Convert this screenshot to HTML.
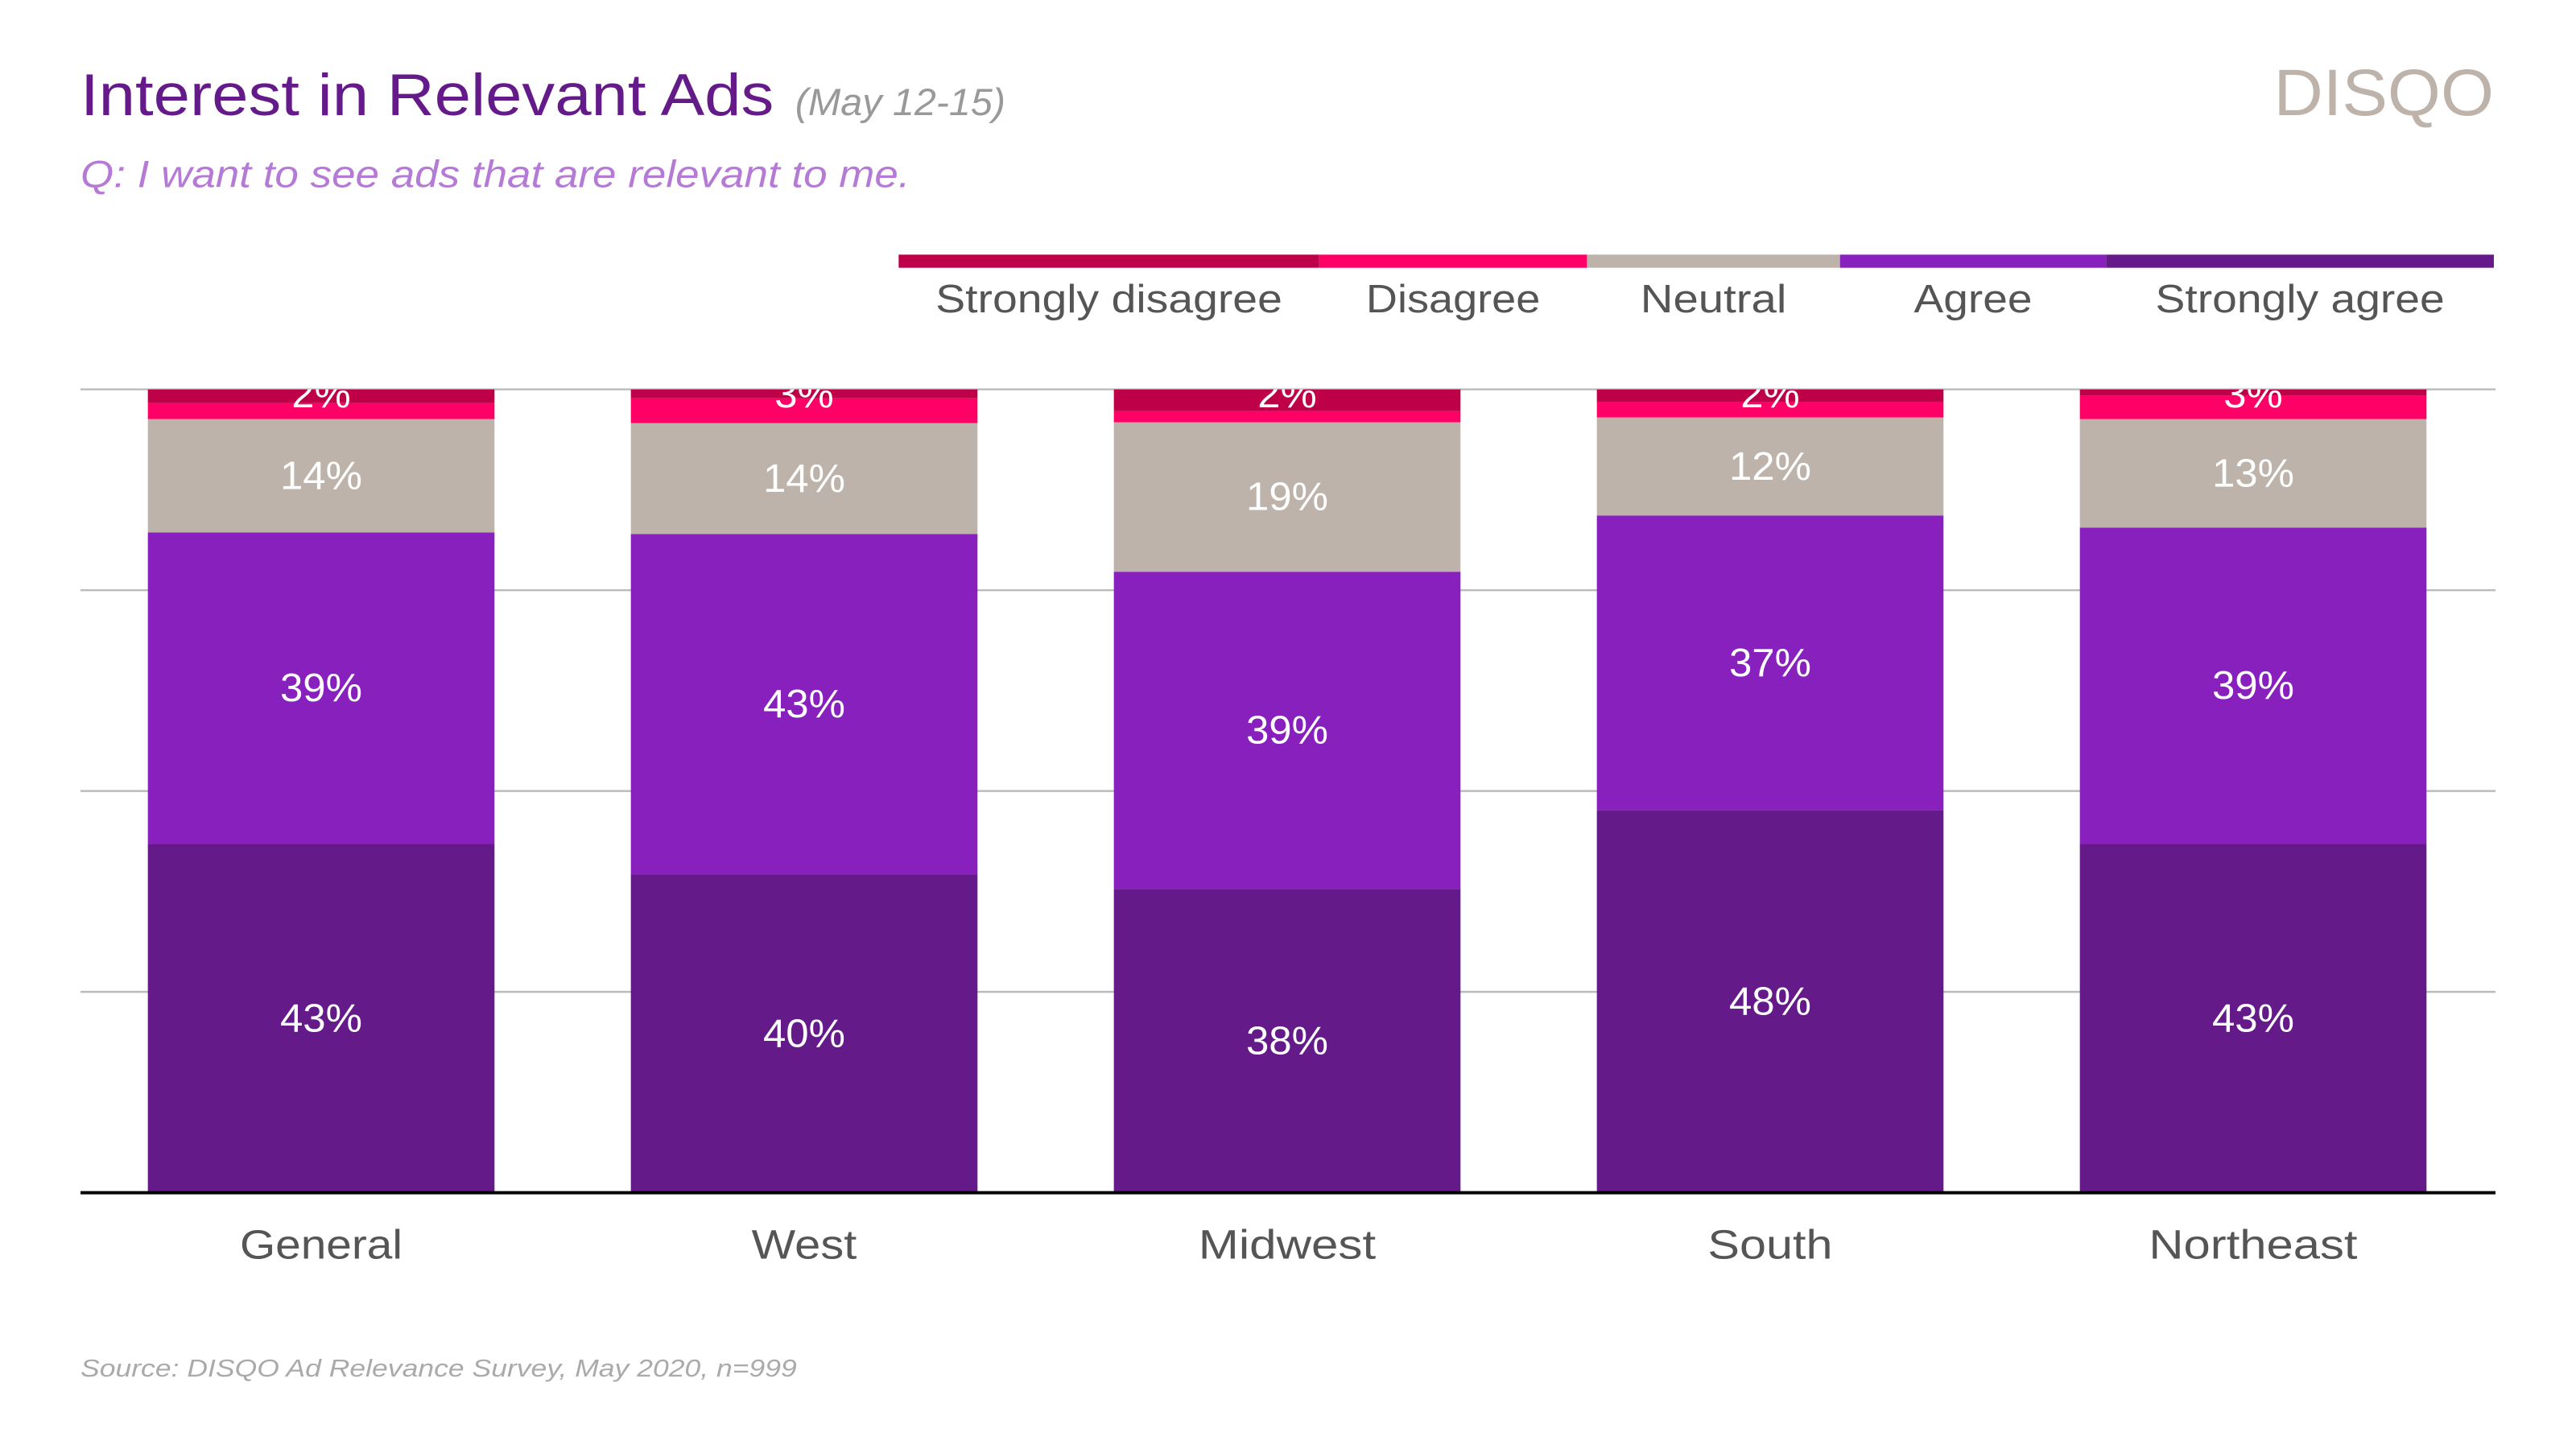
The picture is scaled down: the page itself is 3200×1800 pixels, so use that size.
<!DOCTYPE html>
<html><head><meta charset="utf-8">
<style>
html,body{margin:0;padding:0;background:#fff;}
svg{display:block;font-family:"Liberation Sans",sans-serif;}
</style></head>
<body>
<svg id="chart" width="3200" height="1800" viewBox="0 0 1568 882" xmlns="http://www.w3.org/2000/svg">
<defs><clipPath id="plotclip"><rect x="0" y="237" width="1568" height="600"/></clipPath></defs>
<text x="49" y="70" font-size="36" fill="#651a8a" textLength="422" lengthAdjust="spacingAndGlyphs">Interest in Relevant Ads</text>
<text x="484" y="70" font-size="23" font-style="italic" fill="#999" textLength="128" lengthAdjust="spacingAndGlyphs">(May 12-15)</text>
<text x="49" y="114" font-size="23" font-style="italic" fill="#b57ad6" textLength="505" lengthAdjust="spacingAndGlyphs">Q: I want to see ads that are relevant to me.</text>
<text x="1384" y="70" font-size="40" fill="#bdb3aa" textLength="134" lengthAdjust="spacingAndGlyphs">DISQO</text>
<g id="legend"></g>
<g id="grid"></g>
<g id="bars" clip-path="url(#plotclip)"></g>
<line x1="49" x2="1519" y1="726" y2="726" stroke="#000" stroke-width="2"/>
<g id="xlabels"></g>
<text x="49" y="838" font-size="15" font-style="italic" fill="#aaa" textLength="436" lengthAdjust="spacingAndGlyphs">Source: DISQO Ad Relevance Survey, May 2020, n=999</text>
</svg>
<script>
const categories = ["General","West","Midwest","South","Northeast"];
const seriesNames = ["Strongly agree","Agree","Neutral","Disagree","Strongly disagree"];
const stronglyAgree = [43.4,39.6,37.8,47.6,43.4];
const agree = [38.8,42.4,39.5,36.7,39.4];
const neutral = [14.1,13.8,18.6,12.2,13.5];
const disagree = [2,3.1,1.4,1.9,2.9];
const stronglyDisagree = [1.7,1.1,2.7,1.6,0.8];
const valueLabels = [
  ["43%","40%","38%","48%","43%"],
  ["39%","43%","39%","37%","39%"],
  ["14%","14%","19%","12%","13%"]
];
const topLabels = ["2%","3%","2%","2%","3%"];
const gridTicks = [0,25,50,75,100];

const catWidths = [99,64,108,76,127];
const legendWidths = [176,72,89,106,211];

const colors = ["#651a8a","#8820bd","#bdb3aa","#ff0066","#be0049"];
const NS = "http://www.w3.org/2000/svg";
const y0 = 726, yTop = 237;
const yScale = v => y0 - v/100*(y0-yTop);
const barW = 211, step = 294, firstX = 90;
const xScale = i => firstX + i*step;
function mk(tag, attrs, parent){const e=document.createElementNS(NS,tag);for(const k in attrs)e.setAttribute(k,attrs[k]);parent.appendChild(e);return e;}

const grid=document.getElementById('grid');
gridTicks.slice(1).forEach(t=>{
  const l=mk('line',{x1:49,x2:1519,y1:yScale(t),y2:yScale(t),stroke:'#bbb','stroke-width':1.2},grid);
  
  
});

const series=[stronglyAgree,agree,neutral,disagree,stronglyDisagree];
const bars=document.getElementById('bars');
categories.forEach((c,i)=>{
  let cum=0;
  series.forEach((s,k)=>{
    const v=s[i];
    const yA=yScale(cum+v), yB=yScale(cum);
    const r=mk('rect',{x:xScale(i),y:yA,width:barW,height:yB-yA,fill:colors[k]},bars);
    
    
    if(k<3){
      const t=mk('text',{x:xScale(i)+barW/2,y:(yA+yB)/2+8,'font-size':24,fill:'#fff','text-anchor':'middle',textLength:50,lengthAdjust:'spacingAndGlyphs'},bars);
      t.textContent=valueLabels[k][i];
      
      
    }
    cum+=v;
  });
  const t=mk('text',{x:xScale(i)+barW/2,y:yTop+11,'font-size':24,fill:'#fff','text-anchor':'middle',textLength:36,lengthAdjust:'spacingAndGlyphs'},bars);
  t.textContent=topLabels[i];
  
  
  const xl=mk('text',{x:xScale(i)+barW/2,y:766,'font-size':25,fill:'#555','text-anchor':'middle',textLength:catWidths[i],lengthAdjust:'spacingAndGlyphs'},document.getElementById('xlabels'));
  xl.textContent=c;
  
  
});

const legend=document.getElementById('legend');
const legEdges=[547,803,966,1120,1282,1518];
const legOrder=[4,3,2,1,0];
legOrder.forEach((k,j)=>{
  const r=mk('rect',{x:legEdges[j],y:155,width:legEdges[j+1]-legEdges[j],height:8,fill:colors[k]},legend);
  
  
  const t=mk('text',{x:(legEdges[j]+legEdges[j+1])/2,y:190,'font-size':24,fill:'#555','text-anchor':'middle',textLength:legendWidths[k],lengthAdjust:'spacingAndGlyphs'},legend);
  t.textContent=seriesNames[k];
  
  
});
</script>
</body></html>
